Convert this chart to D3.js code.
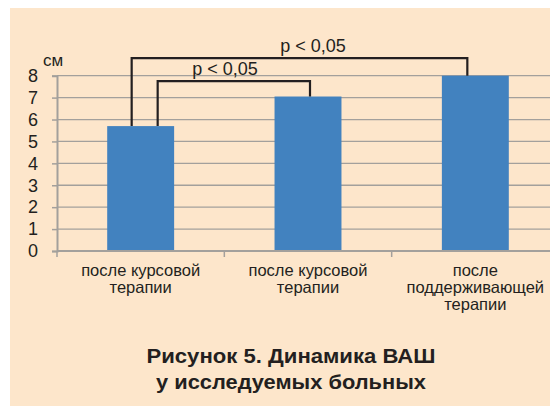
<!DOCTYPE html>
<html><head><meta charset="utf-8">
<script src="https://cdn.jsdelivr.net/npm/d3@7"></script>
<style>
html,body{margin:0;padding:0;background:#fff;}
svg{display:block;}
</style>
</head><body>
<svg id="chart" width="550" height="406"></svg>
<script>
const categories = [["после курсовой","терапии"],["после курсовой","терапии"],["после","поддерживающей","терапии"]];
const values = [5.7, 7.05, 8.0];
const yTicks = [0,1,2,3,4,5,6,7,8];
const unitLabel = "см";
const comparisons = [
  {from:0, to:2, label:"p < 0,05", level:8.8},
  {from:0, to:1, label:"p < 0,05", level:7.75}
];
const titleLines = ["Рисунок 5. Динамика ВАШ","у исследуемых больных"];

const svg = d3.select("#chart");
svg.append("rect").attr("x",10).attr("y",8).attr("width",540).attr("height",398).attr("fill","#fde6cb");

const x = d3.scaleBand().domain(d3.range(values.length)).range([57,559]).paddingInner(0.6).paddingOuter(0.3);
const y = d3.scaleLinear().domain([0,8]).range([251,75.7]);

// gridlines
svg.append("g").selectAll("line").data(yTicks.filter(d=>d>0)).join("line")
  .attr("x1",57).attr("x2",550).attr("y1",d=>y(d)).attr("y2",d=>y(d))
  .attr("stroke","#a3a09c").attr("stroke-width",1.3);

// bars
svg.append("g").selectAll("rect").data(values).join("rect")
  .attr("x",(d,i)=>x(i)).attr("width",x.bandwidth())
  .attr("y",d=>y(d)).attr("height",d=>y(0)-y(d))
  .attr("fill","#4282bf");

// y axis
const yAxis = d3.axisLeft(y).tickValues(yTicks).tickSize(5).tickPadding(14).tickFormat(d3.format("d"));
const gy = svg.append("g").attr("transform","translate(57,0)").call(yAxis);
gy.select(".domain").attr("stroke","#a3a09c").attr("stroke-width",2);
gy.selectAll(".tick line").attr("stroke","#a3a09c").attr("stroke-width",1.5);
gy.selectAll(".tick text").attr("font-family","Liberation Sans, Arial, sans-serif").attr("font-size",18).attr("fill","#231f20");

// x axis
const step = x.step();
const bounds = d3.range(values.length+1).map(i=>57+i*step);
svg.append("line").attr("x1",57).attr("x2",550).attr("y1",y(0)).attr("y2",y(0)).attr("stroke","#a3a09c").attr("stroke-width",2);
svg.append("g").selectAll("line").data(bounds.filter(b=>b<550)).join("line")
  .attr("x1",d=>d).attr("x2",d=>d).attr("y1",y(0)).attr("y2",y(0)+6)
  .attr("stroke","#a3a09c").attr("stroke-width",1.5);

// category labels
const lab = svg.append("g").attr("font-family","Liberation Sans, Arial, sans-serif").attr("font-size",16.5).attr("fill","#231f20").attr("text-anchor","middle");
categories.forEach((lines,i)=>{
  const t = lab.append("text").attr("x",x(i)+x.bandwidth()/2).attr("y",276);
  lines.forEach((l,j)=>t.append("tspan").attr("x",x(i)+x.bandwidth()/2).attr("dy",j===0?0:17).text(l));
});

// unit
svg.append("text").attr("x",43).attr("y",66).attr("font-family","Liberation Sans, Arial, sans-serif").attr("font-size",17).attr("fill","#231f20").text(unitLabel);

// comparison brackets
comparisons.forEach((c,k)=>{
  const x1 = x(c.from)+x.bandwidth()/2 + (k===0?-9:17);
  const x2 = x(c.to)+x.bandwidth()/2 + (k===0?-8:2);
  const yl = y(c.level);
  svg.append("path")
    .attr("d",`M${x1},${y(values[c.from])}V${yl}H${x2}V${y(values[c.to])}`)
    .attr("fill","none").attr("stroke","#231f20").attr("stroke-width",2.2);
  const cx = k===0 ? 313 : 225;
  svg.append("text").attr("x",cx).attr("y",yl-6).attr("text-anchor","middle")
    .attr("font-family","Liberation Sans, Arial, sans-serif").attr("font-size",18).attr("fill","#231f20").text(c.label);
});

// title
const tg = svg.append("g").attr("font-family","Liberation Sans Narrow, Liberation Sans, sans-serif").attr("font-weight","bold").attr("fill","#231f20").attr("text-anchor","middle");
const targetW = [289, 270];
titleLines.forEach((l,i)=>{
  tg.append("text").attr("x",291).attr("y",i===0?363:389).attr("font-size",20.5)
    .attr("textLength",targetW[i]).attr("lengthAdjust","spacingAndGlyphs").text(l);
});
</script>
</body></html>
